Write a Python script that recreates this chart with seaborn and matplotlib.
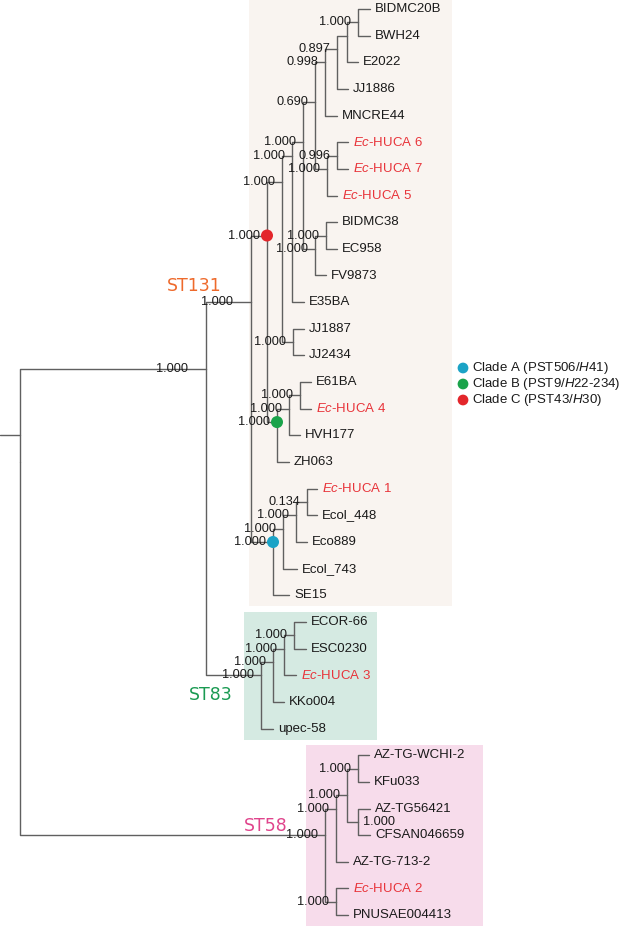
import matplotlib
matplotlib.use("Agg")
import numpy as np
import pandas as pd
import matplotlib.pyplot as plt
from matplotlib.patches import Rectangle
import seaborn as sns

sns.set_theme(style="white")
plt.rcParams['font.family'] = ['Liberation Sans', 'DejaVu Sans']
plt.rcParams['mathtext.fontset'] = 'custom'
plt.rcParams['mathtext.rm'] = 'Liberation Sans'
plt.rcParams['mathtext.it'] = 'Liberation Sans:italic'

# Tips, top to bottom, with their depth on the tree axis
tip_names = ["BIDMC20B", "BWH24", "E2022", "JJ1886", "MNCRE44", "Ec-HUCA 6", "Ec-HUCA 7",
             "Ec-HUCA 5", "BIDMC38", "EC958", "FV9873", "E35BA", "JJ1887", "JJ2434",
             "E61BA", "Ec-HUCA 4", "HVH177", "ZH063", "Ec-HUCA 1", "Ecol_448", "Eco889",
             "Ecol_743", "SE15", "ECOR-66", "ESC0230", "Ec-HUCA 3", "KKo004", "upec-58",
             "AZ-TG-WCHI-2", "KFu033", "AZ-TG56421", "CFSAN046659", "AZ-TG-713-2",
             "Ec-HUCA 2", "PNUSAE004413"]
tip_depth = [370, 370, 358, 348, 337, 348, 348, 337, 337, 337, 326, 304, 304, 304,
             311, 311, 300, 289, 317, 317, 307, 297, 289, 306, 306, 296, 284, 273,
             369, 369, 370, 370, 348, 348, 348]

# Internal nodes
node_names = ["A1", "A2", "A3", "A4", "C1", "C2", "D", "E1", "E2", "F", "G", "J", "H",
              "K1", "K2", "cladeB", "cladeC", "L1", "L2", "L3", "cladeA", "ST131",
              "M1", "M2", "M3", "ST83", "P", "Q1", "Q2", "Q3", "Q4", "Q5", "ST58", "root"]
node_children = [
    ["BIDMC20B", "BWH24"], ["A1", "E2022"], ["A2", "JJ1886"], ["A3", "MNCRE44"],
    ["Ec-HUCA 6", "Ec-HUCA 7"], ["C1", "Ec-HUCA 5"], ["A4", "C2"],
    ["BIDMC38", "EC958"], ["E1", "FV9873"], ["D", "E2"], ["F", "E35BA"],
    ["JJ1887", "JJ2434"], ["G", "J"],
    ["E61BA", "Ec-HUCA 4"], ["K1", "HVH177"], ["K2", "ZH063"], ["H", "cladeB"],
    ["Ec-HUCA 1", "Ecol_448"], ["L1", "Eco889"], ["L2", "Ecol_743"], ["L3", "SE15"],
    ["cladeC", "cladeA"],
    ["ECOR-66", "ESC0230"], ["M1", "Ec-HUCA 3"], ["M2", "KKo004"], ["M3", "upec-58"],
    ["ST131", "ST83"],
    ["AZ-TG-WCHI-2", "KFu033"], ["AZ-TG56421", "CFSAN046659"], ["Q1", "Q2"],
    ["Q3", "AZ-TG-713-2"], ["Ec-HUCA 2", "PNUSAE004413"], ["Q4", "Q5"],
    ["P", "ST58"]]
node_depth = [358, 347, 337, 325, 337, 327, 315, 326, 315, 303, 292, 293, 282,
              300, 289, 277, 267, 307, 296, 283, 273, 251,
              294, 284, 273, 261, 206, 358, 358, 347, 336, 336, 325, 20]
node_support = ["1.000", None, "0.897", "0.998", "0.996", "1.000", "0.690",
                "1.000", "1.000", "1.000", "1.000", "1.000", "1.000",
                "1.000", "1.000", "1.000", "1.000", "0.134", "1.000", "1.000", "1.000",
                "1.000", "1.000", "1.000", "1.000", "1.000", "1.000",
                "1.000", "1.000", "1.000", "1.000", "1.000", "1.000", None]

# Clade markers / legend
clade_nodes = ["cladeA", "cladeB", "cladeC"]
clade_legend = ["Clade A (PST506/$\\it{H}$41)", "Clade B (PST9/$\\it{H}$22-234)",
                "Clade C (PST43/$\\it{H}$30)"]
clade_colors = ["#1ba3c6", "#1aa34a", "#e3262b"]

# Sequence-type groups
st_labels = ["ST131", "ST83", "ST58"]
st_first_tip = [0, 23, 28]
st_last_tip = [22, 27, 34]
st_colors = ["#ee6a2c", "#1a9a52", "#e0448c"]
st_fill = ["#f9f4f0", "#d5eae2", "#f7dceb"]

# ---- layout ----
TIP_Y0, TIP_DY = 9.0, 26.65
box_x = [(249, 452), (244, 377), (306, 483)]
st_text_pos = [(222, 286), (233, 695), (288, 826)]
label_nudge = {"P": -11, "ST131": -11}
label_right_side = {"Q2"}
root_stub_tip = 16
line_col = "#606060"

tip_y = {n: TIP_Y0 + TIP_DY * i for i, n in enumerate(tip_names)}
pos = {n: (tip_depth[i], tip_y[n]) for i, n in enumerate(tip_names)}
children = dict(zip(node_names, node_children))


def tips_under(n):
    if n in tip_y:
        return [tip_y[n]]
    out = []
    for c in children[n]:
        out += tips_under(c)
    return out


for n, d in zip(node_names, node_depth):
    pos[n] = (d, float(np.mean(tips_under(n))))

# branch segments as elbow paths
rows = []
seg = 0
for n in node_names:
    px, py = pos[n]
    for c in children[n]:
        cx, cy = pos[c]
        for x, y in [(px, py), (px, cy), (cx, cy)]:
            rows.append({"seg": seg, "x": x, "y": y})
        seg += 1
stub_y = TIP_Y0 + TIP_DY * root_stub_tip
rows += [{"seg": seg, "x": 0, "y": stub_y}, {"seg": seg, "x": pos["root"][0], "y": stub_y}]
seg_df = pd.DataFrame(rows)

fig = plt.figure(figsize=(6.25, 9.3), dpi=100)
ax = fig.add_axes([0, 0, 1, 1])

# coloured boxes behind each ST group
for i in range(len(st_labels)):
    y0 = tip_y[tip_names[st_first_tip[i]]] - 10
    y1 = tip_y[tip_names[st_last_tip[i]]] + 11
    x0, x1 = box_x[i]
    ax.add_patch(Rectangle((x0, y0), x1 - x0, y1 - y0, color=st_fill[i], lw=0, zorder=0))
    tx, ty = st_text_pos[i]
    ax.text(tx, ty, st_labels[i], color=st_colors[i], fontsize=12.5, ha="right", va="center",
            family="DejaVu Sans", zorder=4)

sns.lineplot(data=seg_df, x="x", y="y", units="seg", estimator=None, sort=False,
             color=line_col, linewidth=1.0, ax=ax, legend=False, zorder=2)

# tip labels
for n in tip_names:
    x, y = pos[n]
    if n.startswith("Ec-"):
        ax.text(x + 5, y, "$\\it{Ec}$" + n[2:], color="#e8343a", fontsize=9.5,
                ha="left", va="center", zorder=4)
    else:
        ax.text(x + 5, y, n, color="#1a1a1a", fontsize=9.5, ha="left", va="center", zorder=4)

# support values
for n, s in zip(node_names, node_support):
    if s is None:
        continue
    x, y = pos[n]
    if n in label_right_side:
        ax.text(x + 5, y, s, fontsize=9.2, ha="left", va="center", color="#1a1a1a", zorder=3)
    else:
        ax.text(x - 7 + label_nudge.get(n, 0), y, s, fontsize=9.2, ha="right", va="center",
                color="#1a1a1a", zorder=3)

# clade markers
mk = pd.DataFrame({"clade": clade_nodes,
                   "x": [pos[n][0] for n in clade_nodes],
                   "y": [pos[n][1] for n in clade_nodes]})
sns.scatterplot(data=mk, x="x", y="y", hue="clade", palette=clade_colors, s=75,
                edgecolor="none", ax=ax, legend=False, zorder=5)

# legend
leg = pd.DataFrame({"clade": clade_nodes, "x": 463, "y": [368, 384, 400]})
sns.scatterplot(data=leg, x="x", y="y", hue="clade", palette=clade_colors, s=60,
                edgecolor="none", ax=ax, legend=False, zorder=5)
for lab, y in zip(clade_legend, leg["y"]):
    ax.text(472, y, lab, fontsize=9.5, ha="left", va="center", color="#1a1a1a")

ax.set_xlim(0, 625)
ax.set_ylim(930, 0)
ax.axis("off")
fig.savefig("out.png", dpi=100)
